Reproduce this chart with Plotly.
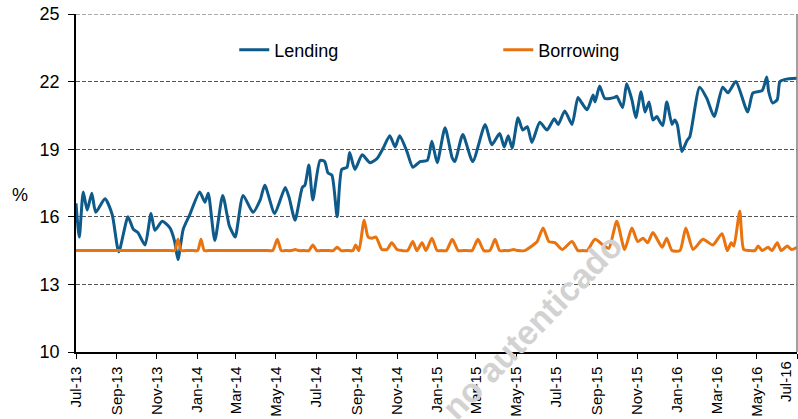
import plotly.graph_objects as go

# Lending rate (%)
lending_dates = [
    "2013-07-01", "2013-07-06", "2013-07-12", "2013-07-18", "2013-07-25", "2013-07-31",
    "2013-08-14", "2013-08-25", "2013-09-04", "2013-09-18", "2013-09-26", "2013-10-03",
    "2013-10-14", "2013-10-23", "2013-10-29", "2013-11-09", "2013-11-21", "2013-11-28",
    "2013-12-03", "2013-12-11", "2013-12-21", "2014-01-05", "2014-01-13", "2014-01-18",
    "2014-01-28", "2014-02-09", "2014-02-19", "2014-02-23", "2014-02-28", "2014-03-12",
    "2014-03-27", "2014-04-07", "2014-04-14", "2014-04-29", "2014-05-15", "2014-05-21",
    "2014-05-30", "2014-06-10", "2014-06-14", "2014-06-20", "2014-06-26", "2014-07-07",
    "2014-07-14", "2014-07-19", "2014-07-25", "2014-08-02", "2014-08-09", "2014-08-17",
    "2014-08-21", "2014-08-29", "2014-09-09", "2014-09-21", "2014-10-02", "2014-10-11",
    "2014-10-21", "2014-10-29", "2014-11-05", "2014-11-16", "2014-11-25", "2014-12-06",
    "2014-12-17", "2014-12-24", "2015-01-01", "2015-01-13", "2015-01-24", "2015-01-28",
    "2015-02-09", "2015-02-24", "2015-03-15", "2015-03-25", "2015-04-06", "2015-04-13",
    "2015-04-19", "2015-04-25", "2015-05-04", "2015-05-11", "2015-05-18", "2015-05-25",
    "2015-06-06", "2015-06-17", "2015-06-28", "2015-07-04", "2015-07-14", "2015-07-25",
    "2015-08-03", "2015-08-09", "2015-08-17", "2015-08-26", "2015-08-29", "2015-09-05",
    "2015-09-13", "2015-09-28", "2015-10-01", "2015-10-10", "2015-10-16", "2015-10-24",
    "2015-10-30", "2015-11-07", "2015-11-13", "2015-11-19", "2015-11-25", "2015-12-01",
    "2015-12-04", "2015-12-10", "2015-12-16", "2015-12-24", "2015-12-28", "2016-01-01",
    "2016-01-08", "2016-01-16", "2016-01-20", "2016-02-04", "2016-02-15", "2016-02-26",
    "2016-03-10", "2016-03-18", "2016-03-30", "2016-04-17", "2016-04-25", "2016-05-09",
    "2016-05-16", "2016-05-19", "2016-05-25", "2016-06-01", "2016-06-05", "2016-06-13",
    "2016-07-01",
]
lending = [
    16.6, 15.1, 17.1, 16.3, 17.05, 16.2,
    16.8, 16.1, 14.45, 16.0, 15.45, 15.3,
    14.75, 16.15, 15.4, 15.8, 15.5, 14.9,
    14.1, 15.45, 16.1, 17.1, 16.65, 17.05,
    14.95, 16.95, 15.6, 15.35, 15.1, 16.95,
    16.2, 16.75, 17.4, 16.15, 17.3, 16.85,
    15.85, 17.3, 17.4, 18.3, 16.75, 18.5,
    18.45, 17.95, 17.85, 16.0, 18.1, 18.2,
    18.85, 18.1, 18.75, 18.4, 18.6, 19.05,
    19.6, 19.1, 19.6, 18.9, 18.2, 18.45,
    18.5, 19.35, 18.4, 19.95, 18.6, 18.45,
    19.65, 18.45, 20.1, 19.2, 19.7, 19.1,
    19.6, 19.05, 20.4, 19.85, 20.0, 19.3,
    20.2, 19.85, 20.35, 20.1, 20.7, 20.1,
    21.3, 21.05, 20.75, 21.4, 21.1, 21.8,
    21.25, 21.3, 21.35, 20.85, 21.9, 21.2,
    20.4, 21.55, 20.65, 21.1, 20.3, 20.45,
    20.3, 20.05, 21.1, 20.1, 20.3, 20.1,
    18.9, 19.4, 19.55, 21.75, 21.25, 20.45,
    21.75, 21.5, 22.0, 20.65, 21.5, 21.6,
    22.2, 21.55, 21.05, 21.2, 22.0, 22.1,
    22.15,
]

# Borrowing rate (%) (flat stretches sit at 14.5)
borrowing_dates = [
    "2013-07-01", "2013-11-22", "2013-11-28", "2013-12-03", "2013-12-08", "2013-12-14",
    "2013-12-27", "2014-01-02", "2014-01-07", "2014-01-12", "2014-01-18", "2014-04-19",
    "2014-04-26", "2014-05-03", "2014-05-09", "2014-05-15", "2014-05-24", "2014-05-30",
    "2014-06-05", "2014-06-13", "2014-06-20", "2014-06-26", "2014-07-02", "2014-07-08",
    "2014-07-21", "2014-07-27", "2014-08-02", "2014-08-08", "2014-08-14", "2014-08-20",
    "2014-08-26", "2014-08-30", "2014-09-04", "2014-09-12", "2014-09-18", "2014-09-24",
    "2014-09-30", "2014-10-09", "2014-10-17", "2014-10-24", "2014-11-01", "2014-11-09",
    "2014-11-17", "2014-11-25", "2014-12-01", "2014-12-09", "2014-12-15", "2014-12-24",
    "2015-01-01", "2015-01-08", "2015-01-15", "2015-01-24", "2015-02-02", "2015-02-09",
    "2015-02-15", "2015-02-23", "2015-03-04", "2015-03-13", "2015-03-22", "2015-03-30",
    "2015-04-06", "2015-04-13", "2015-04-20", "2015-04-27", "2015-05-04", "2015-05-14",
    "2015-05-27", "2015-06-02", "2015-06-11", "2015-06-20", "2015-06-29", "2015-07-10",
    "2015-07-25", "2015-08-03", "2015-08-10", "2015-08-17", "2015-08-29", "2015-09-10",
    "2015-09-19", "2015-10-01", "2015-10-13", "2015-10-24", "2015-11-02", "2015-11-10",
    "2015-11-17", "2015-11-25", "2015-12-09", "2015-12-16", "2015-12-24", "2016-01-05",
    "2016-01-14", "2016-01-25", "2016-02-09", "2016-02-24", "2016-03-09", "2016-03-17",
    "2016-03-23", "2016-03-27", "2016-04-05", "2016-04-11", "2016-04-20", "2016-04-28",
    "2016-05-03", "2016-05-09", "2016-05-18", "2016-05-24", "2016-06-01", "2016-06-07",
    "2016-06-16", "2016-06-23", "2016-07-01",
]
borrowing = [
    14.5, 14.5, 14.5, 15.0, 14.5, 14.5,
    14.5, 14.5, 15.0, 14.5, 14.5, 14.5,
    14.5, 15.0, 14.5, 14.5, 14.5, 14.55,
    14.5, 14.5, 14.5, 14.75, 14.5, 14.5,
    14.5, 14.5, 14.65, 14.5, 14.5, 14.5,
    14.5, 14.75, 14.5, 15.85, 15.1, 15.05,
    15.1, 14.55, 14.55, 14.85, 14.55, 14.5,
    14.5, 14.9, 14.5, 14.85, 14.5, 15.05,
    14.5, 14.5, 14.5, 15.0, 14.5, 14.5,
    14.5, 14.5, 15.0, 14.5, 14.5, 15.0,
    14.5, 14.5, 14.5, 14.55, 14.5, 14.5,
    14.75, 14.9, 15.5, 14.9, 14.85, 14.55,
    14.9, 14.5, 14.5, 14.5, 15.0, 14.75,
    14.6, 15.8, 14.55, 15.5, 14.9, 15.05,
    14.85, 15.3, 14.65, 15.05, 14.5, 14.5,
    15.5, 14.55, 15.0, 14.75, 15.25, 14.5,
    14.85, 14.7, 16.25, 14.55, 14.5, 14.5,
    14.7, 14.5, 14.65, 14.5, 14.85, 14.5,
    14.7, 14.55, 14.65,
]

# x tick positions and labels (every 2 months)
tick_dates = [
    "2013-07-01", "2013-09-01", "2013-11-01", "2014-01-01", "2014-03-01", "2014-05-01",
    "2014-07-01", "2014-09-01", "2014-11-01", "2015-01-01", "2015-03-01", "2015-05-01",
    "2015-07-01", "2015-09-01", "2015-11-01", "2016-01-01", "2016-03-01", "2016-05-01",
    "2016-07-01",
]
tick_labels = [
    "Jul-13", "Sep-13", "Nov-13", "Jan-14", "Mar-14", "May-14",
    "Jul-14", "Sep-14", "Nov-14", "Jan-15", "Mar-15", "May-15",
    "Jul-15", "Sep-15", "Nov-15", "Jan-16", "Mar-16", "May-16",
    "Jul-16",
]
y_ticks = [10, 13, 16, 19, 22, 25]

fig = go.Figure()
fig.add_trace(go.Scatter(x=lending_dates, y=lending, name="Lending", mode="lines",
                         line=dict(color="#0E5A8A", width=3, shape="spline", smoothing=0.6)))
fig.add_trace(go.Scatter(x=borrowing_dates, y=borrowing, name="Borrowing", mode="lines",
                         line=dict(color="#E8730F", width=3, shape="spline", smoothing=0.6)))

# dashed line on top edge (25) like the other gridlines
fig.add_shape(type="line", xref="paper", yref="y", x0=0, x1=1, y0=25, y1=25,
              line=dict(color="#555555", width=1, dash="4px,2px"), layer="below")
# thin grey right border
fig.add_shape(type="line", xref="paper", yref="paper", x0=1, x1=1, y0=0, y1=1,
              line=dict(color="#808080", width=1.5))

# watermark
fig.add_annotation(text="<b>no autenticado</b>", xref="paper", yref="paper",
                   x=0.633, y=0.077, xanchor="center", yanchor="middle",
                   showarrow=False, textangle=-46,
                   font=dict(size=34, color="#D2D2D2"))

# "%" axis label, horizontal
fig.add_annotation(text="%", xref="paper", yref="paper", x=-0.078, y=0.465,
                   xanchor="center", yanchor="middle", showarrow=False,
                   font=dict(size=18))

# last tick label nudged inside the page, as in the original
fig.add_annotation(text=tick_labels[-1], xref="x", yref="paper",
                   x=tick_dates[-1], y=0, xanchor="right", yanchor="top",
                   xshift=-1, yshift=-7, textangle=-90, showarrow=False,
                   font=dict(size=15))

fig.update_layout(
    width=798, height=419,
    margin=dict(l=76, r=1, t=14, b=67, autoexpand=False),
    plot_bgcolor="white", paper_bgcolor="white",
    font=dict(family="Liberation Sans, Arial", color="black"),
    showlegend=True,
    legend=dict(orientation="h", x=0.2195, y=0.893, xanchor="left", yanchor="middle",
                entrywidth=219, entrywidthmode="pixels",
                font=dict(size=18), bgcolor="rgba(0,0,0,0)"),
)
fig.update_xaxes(
    range=["2013-07-01", "2016-07-01"],
    tickvals=tick_dates, ticktext=tick_labels[:-1] + [""], tickangle=-90,
    tickfont=dict(size=15), ticks="outside", ticklen=5, tickcolor="black",
    ticklabelstandoff=2, automargin=False,
    showline=True, linecolor="black", linewidth=1.5, showgrid=False,
)
fig.update_yaxes(
    range=[10, 25], tickvals=y_ticks, tickfont=dict(size=18),
    ticks="outside", ticklen=6, tickcolor="black", ticklabelstandoff=5,
    automargin=False,
    showline=True, linecolor="black", linewidth=1.5,
    showgrid=True, gridcolor="#555555", griddash="4px,2px", gridwidth=1,
    zeroline=False,
)

fig.write_html("out.html", config={"displayModeBar": False},
               post_script="document.body.style.margin='0';")
